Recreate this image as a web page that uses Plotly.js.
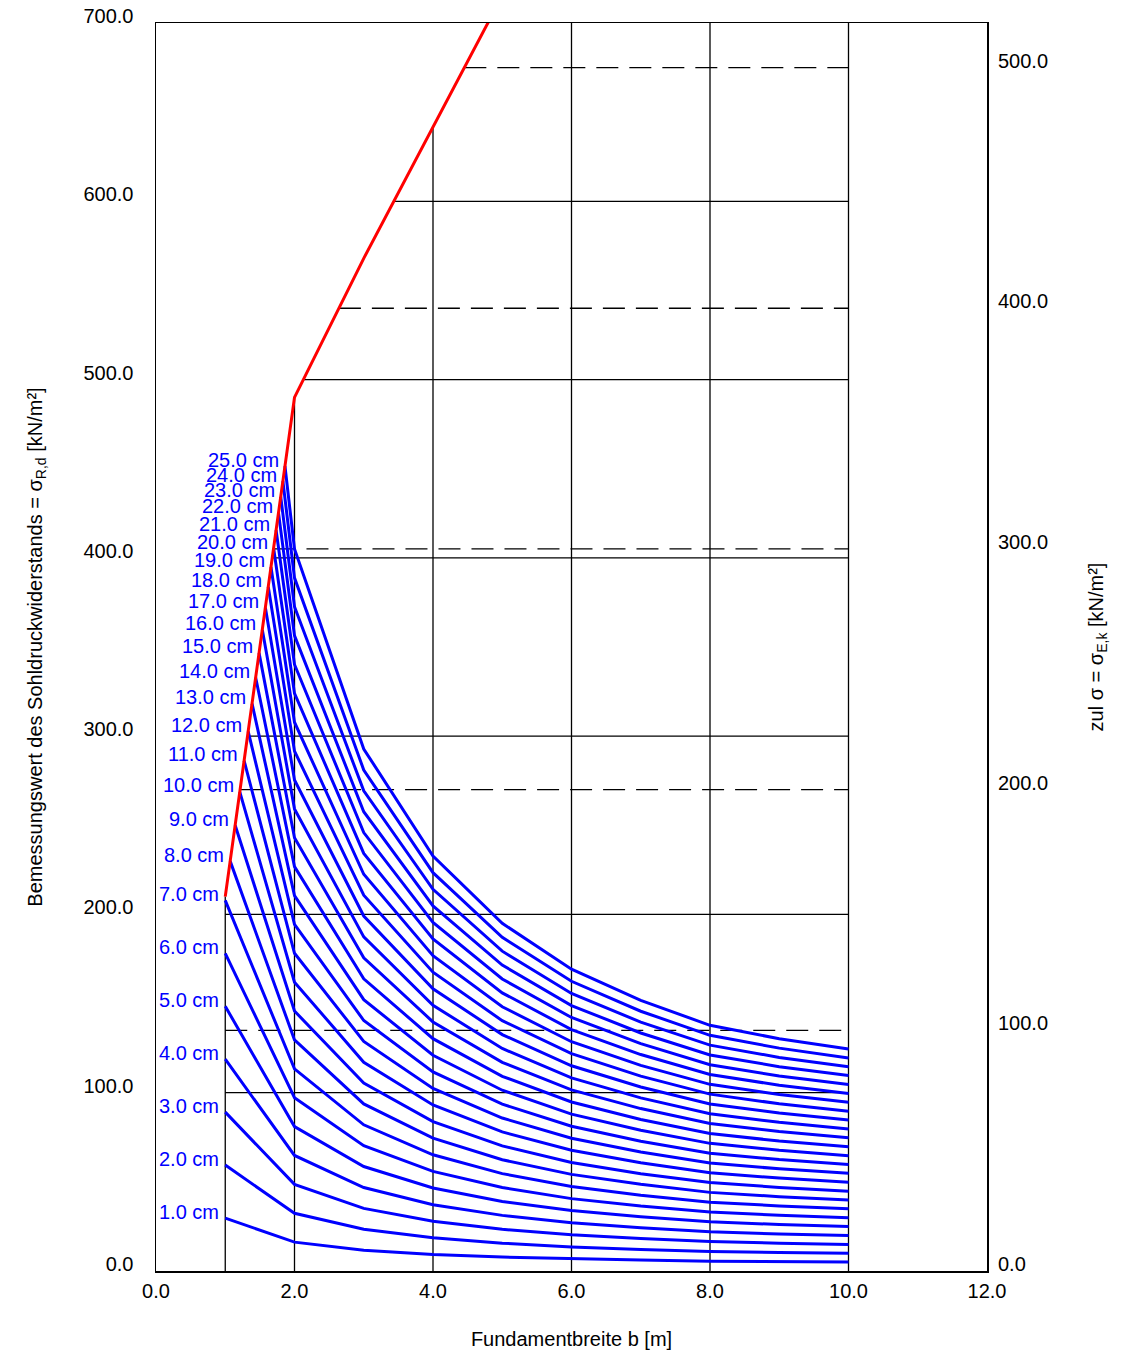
<!DOCTYPE html>
<html>
<head>
<meta charset="utf-8">
<script src="https://cdn.plot.ly/plotly-3.0.1.min.js"></script>
<style>
  html, body { margin: 0; padding: 0; background: #ffffff; }
  #chart { width: 1137px; height: 1355px; }
</style>
</head>
<body>
<div id="chart"></div>
<script>
// Foundation width b [m] at which every settlement curve is tabulated (after its start point)
const widthsB = [2, 3, 4, 5, 6, 7, 8, 9, 10];

// Settlement of each curve [cm]
const settlementsCm = [1, 2, 3, 4, 5, 6, 7, 8, 9, 10, 11, 12, 13, 14, 15, 16, 17, 18, 19, 20, 21, 22, 23, 24, 25];

// Start point of each curve: b = 1.0 m, or where it meets the bearing-resistance limit
const startB = [1, 1, 1, 1, 1, 1, 1, 1.071, 1.143, 1.210, 1.272, 1.331, 1.387, 1.439, 1.488,
                1.535, 1.579, 1.621, 1.660, 1.698, 1.734, 1.769, 1.801, 1.832, 1.862];
const startSigma = [29.7, 59.4, 89.1, 118.8, 148.5, 178.2, 207.9, 229.9, 250.0, 268.7, 286.3, 302.7, 318.2,
                    332.9, 346.7, 359.7, 372.1, 383.8, 394.9, 405.5, 415.6, 425.2, 434.3, 443.1, 451.5];

// sigma_R,d [kN/m²] of each settlement curve at b = 2 ... 10 m
const s01 = [16.2, 11.7, 9.3, 7.8, 6.8, 6.1, 5.5, 5.2, 5.0];
const s02 = [32.4, 23.4, 18.6, 15.6, 13.5, 12.1, 11.0, 10.4, 10.0];
const s03 = [48.6, 35.1, 27.9, 23.4, 20.3, 18.2, 16.5, 15.6, 14.9];
const s04 = [64.8, 46.8, 37.2, 31.2, 27.1, 24.3, 22.0, 20.8, 19.9];
const s05 = [81.0, 58.6, 46.6, 39.0, 33.9, 30.4, 27.6, 26.1, 24.9];
const s06 = [97.2, 70.3, 55.9, 46.8, 40.6, 36.4, 33.1, 31.3, 29.9];
const s07 = [113.4, 82.0, 65.2, 54.6, 47.4, 42.5, 38.6, 36.5, 34.9];
const s08 = [129.6, 93.7, 74.5, 62.4, 54.2, 48.6, 44.1, 41.7, 39.8];
const s09 = [145.8, 105.4, 83.8, 70.2, 60.9, 54.6, 49.6, 46.9, 44.8];
const s10 = [162.0, 117.1, 93.1, 78.0, 67.7, 60.7, 55.1, 52.1, 49.8];
const s11 = [178.2, 128.8, 102.4, 85.8, 74.5, 66.8, 60.6, 57.3, 54.8];
const s12 = [194.4, 140.5, 111.7, 93.6, 81.2, 72.8, 66.1, 62.5, 59.8];
const s13 = [210.6, 152.2, 121.0, 101.4, 88.0, 78.9, 71.6, 67.7, 64.7];
const s14 = [226.8, 163.9, 130.3, 109.2, 94.8, 85.0, 77.1, 72.9, 69.7];
const s15 = [243.0, 175.7, 139.7, 117.0, 101.6, 91.1, 82.7, 78.2, 74.7];
const s16 = [259.2, 187.4, 149.0, 124.8, 108.3, 97.1, 88.2, 83.4, 79.7];
const s17 = [275.4, 199.1, 158.3, 132.6, 115.1, 103.2, 93.7, 88.6, 84.7];
const s18 = [291.6, 210.8, 167.6, 140.4, 121.9, 109.3, 99.2, 93.8, 89.6];
const s19 = [307.8, 222.5, 176.9, 148.2, 128.6, 115.3, 104.7, 99.0, 94.6];
const s20 = [324.0, 234.2, 186.2, 156.0, 135.4, 121.4, 110.2, 104.2, 99.6];
const s21 = [340.2, 245.9, 195.5, 163.8, 142.2, 127.5, 115.7, 109.4, 104.6];
const s22 = [356.4, 257.6, 204.8, 171.6, 148.9, 133.5, 121.2, 114.6, 109.6];
const s23 = [372.6, 269.3, 214.1, 179.4, 155.7, 139.6, 126.7, 119.8, 114.5];
const s24 = [388.8, 281.0, 223.4, 187.2, 162.5, 145.7, 132.2, 125.0, 119.5];
const s25 = [405.0, 292.8, 232.8, 195.0, 169.3, 151.8, 137.8, 130.3, 124.5];
const curveSigma = [s01, s02, s03, s04, s05, s06, s07, s08, s09, s10, s11, s12, s13,
                    s14, s15, s16, s17, s18, s19, s20, s21, s22, s23, s24, s25];

// Bearing-resistance limit (red line)
const limitB = [1, 2, 3, 4, 5];
const limitSigma = [210, 490, 568, 641.7, 715.3];

// Chart grid: vertical lines, solid levels (left axis) and dashed levels (right axis)
const gridB = [1, 2, 4, 6, 8, 10];
const gridSolidSigma = [100, 200, 300, 400, 500, 600];
const gridDashedAllowable = [100, 200, 300, 400, 500];
const partialFactor = 1.35;   // sigma_R,d = 1.35 * zul sigma

const yMax = 700;
const bMin = 1, bMax = 10;

// limit value at width b (linear between tabulated points)
function limitAt(b) {
  for (let i = 0; i < limitB.length - 1; i++) {
    if (b >= limitB[i] && b <= limitB[i + 1]) {
      const t = (b - limitB[i]) / (limitB[i + 1] - limitB[i]);
      return limitSigma[i] + t * (limitSigma[i + 1] - limitSigma[i]);
    }
  }
  return limitSigma[limitSigma.length - 1];
}
// width b at which the limit reaches a given value
function limitWidth(s) {
  if (s <= limitSigma[0]) return bMin;
  for (let i = 0; i < limitSigma.length - 1; i++) {
    if (s >= limitSigma[i] && s <= limitSigma[i + 1]) {
      const t = (s - limitSigma[i]) / (limitSigma[i + 1] - limitSigma[i]);
      return limitB[i] + t * (limitB[i + 1] - limitB[i]);
    }
  }
  return bMax;
}

const FONT = 'Liberation Sans, Arial, Helvetica, sans-serif';
const FS = 20;

// grid lines
const solidX = [], solidY = [];
gridB.forEach(b => {
  solidX.push(b, b, null);
  solidY.push(0, Math.min(yMax, limitAt(b)), null);
});
gridSolidSigma.forEach(s => {
  solidX.push(limitWidth(s), bMax, null);
  solidY.push(s, s, null);
});
const dashedX = [], dashedY = [];
gridDashedAllowable.forEach(a => {
  const s = a * partialFactor;
  dashedX.push(limitWidth(s), bMax, null);
  dashedY.push(s, s, null);
});

const traces = [];
traces.push({
  x: solidX, y: solidY, type: 'scatter', mode: 'lines', hoverinfo: 'skip',
  line: { color: '#000000', width: 1.3 }, showlegend: false
});
traces.push({
  x: dashedX, y: dashedY, type: 'scatter', mode: 'lines', hoverinfo: 'skip',
  line: { color: '#000000', width: 1.3, dash: '22px,11px' }, showlegend: false
});

// settlement curves
const annotations = [];
settlementsCm.forEach((s, i) => {
  traces.push({
    x: [startB[i]].concat(widthsB),
    y: [startSigma[i]].concat(curveSigma[i]),
    type: 'scatter', mode: 'lines', name: s.toFixed(1) + ' cm',
    line: { color: '#0000FF', width: 3 }, showlegend: false
  });
  annotations.push({
    x: startB[i], y: startSigma[i], xref: 'x', yref: 'y',
    text: s.toFixed(1) + ' cm', showarrow: false,
    xanchor: 'right', yanchor: 'middle', xshift: -4, yshift: 6.5,
    font: { family: FONT, size: FS, color: '#0000FF' }
  });
});

// bearing-resistance limit
traces.push({
  x: limitB, y: limitSigma, type: 'scatter', mode: 'lines', name: 'Grenzlinie',
  line: { color: '#FF0000', width: 3 }, showlegend: false
});

// dummy trace to carry the right-hand axis
traces.push({
  x: [0], y: [0], yaxis: 'y2', type: 'scatter', mode: 'markers',
  marker: { opacity: 0 }, hoverinfo: 'skip', showlegend: false
});

const leftTicks = [0, 100, 200, 300, 400, 500, 600, 700];
const rightTicks = [0, 100, 200, 300, 400, 500];
const bTicks = [0, 2, 4, 6, 8, 10, 12];

const layout = {
  width: 1137, height: 1355,
  margin: { l: 156, r: 150, t: 23, b: 84, pad: 0 },
  paper_bgcolor: '#ffffff', plot_bgcolor: '#ffffff',
  font: { family: FONT, size: FS, color: '#000000' },
  showlegend: false,
  xaxis: {
    range: [0, 12], tickvals: bTicks, ticktext: bTicks.map(v => v.toFixed(1)),
    showgrid: false, zeroline: false, ticks: '',
    showline: true, mirror: true, linecolor: '#000000', linewidth: 1.5,
    ticklabelstandoff: 1,
    title: { text: 'Fundamentbreite b [m]', font: { family: FONT, size: FS }, standoff: 31 }
  },
  yaxis: {
    range: [0, yMax], tickvals: leftTicks, ticktext: leftTicks.map(v => v.toFixed(1)),
    showgrid: false, zeroline: false, ticks: '',
    showline: true, mirror: true, linecolor: '#000000', linewidth: 1.5,
    ticklabelstandoff: 17, ticklabelshift: -7,
    title: { text: 'Bemessungswert des Sohldruckwiderstands = σ<sub>R,d</sub> [kN/m²]',
             font: { family: FONT, size: FS }, standoff: 35 }
  },
  yaxis2: {
    overlaying: 'y', side: 'right', range: [0, yMax / partialFactor],
    tickvals: rightTicks, ticktext: rightTicks.map(v => v.toFixed(1)),
    showgrid: false, zeroline: false, ticks: '', showline: false,
    ticklabelstandoff: 10, ticklabelshift: -7,
    title: { text: 'zul σ = σ<sub>E,k</sub> [kN/m²]', font: { family: FONT, size: FS }, standoff: 41 }
  },
  annotations: annotations
};

Plotly.newPlot('chart', traces, layout, { staticPlot: true, displayModeBar: false });
</script>
</body>
</html>
